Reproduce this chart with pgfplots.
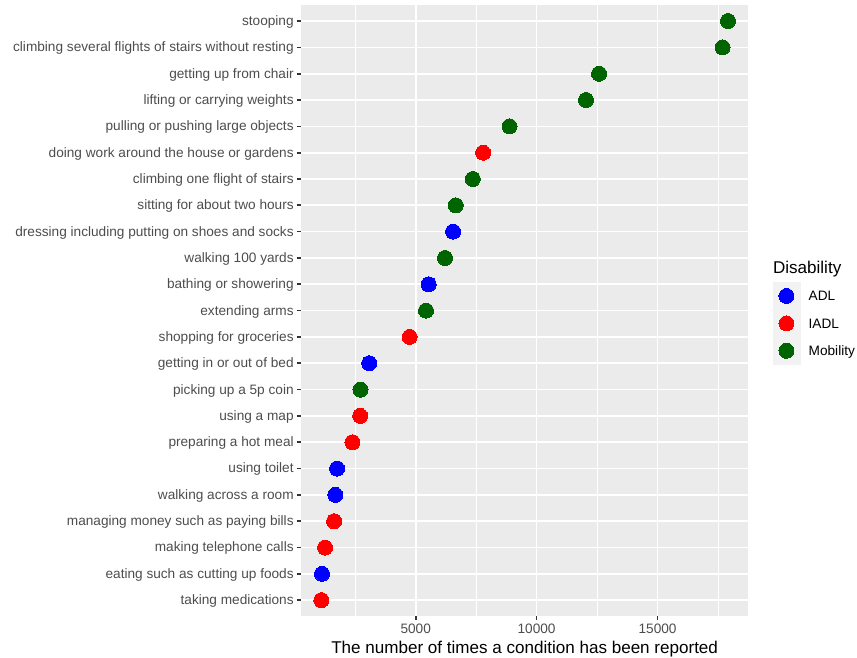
\documentclass[border=0pt]{standalone}
\usepackage{fontspec}
\setmainfont{Liberation Sans}
\usepackage{pgfplots}
\pgfplotsset{compat=1.18}
\definecolor{adl}{RGB}{0,0,255}
\definecolor{iadl}{RGB}{255,0,0}
\definecolor{mob}{RGB}{0,100,0}
\definecolor{panelbg}{RGB}{235,235,235}
\definecolor{grey30}{RGB}{77,77,77}
\definecolor{grey20}{RGB}{51,51,51}
\definecolor{keybg}{RGB}{242,242,242}
\begin{document}
\begin{tikzpicture}
\begin{axis}[
  scale only axis, width=288.6pt, height=394.0pt,
  at={(0,0)}, anchor=south west, clip=false,
  xmin=259, xmax=18754, ymin=-0.6, ymax=22.6,
  xtick={5000,10000,15000}, minor xtick={2500,7500,12500,17500},
  scaled x ticks=false,
  ytick={0,...,22},
  yticklabels={taking medications, eating such as cutting up foods, making telephone calls, managing money such as paying bills, walking across a room, using toilet, preparing a hot meal, using a map, picking up a 5p coin, getting in or out of bed, shopping for groceries, extending arms, bathing or showering, walking 100 yards, dressing including putting on shoes and socks, sitting for about two hours, climbing one flight of stairs, doing work around the house or gardens, pulling or pushing large objects, lifting or carrying weights, getting up from chair, climbing several flights of stairs without resting, stooping},
  /pgf/number format/assume math mode=true,
  /pgf/number format/1000 sep={},
  xticklabel={\pgfmathprintnumber[fixed,precision=0,1000 sep={}]{\tick}},
  xmajorgrids, xminorgrids, ymajorgrids,
  major grid style={white, line width=1.07pt},
  minor grid style={white, line width=0.53pt},
  axis background/.style={fill=panelbg},
  axis line style={draw=none},
  tick align=outside, major tick length=2.75pt, minor tick length=0pt,
  xtick pos=left, ytick pos=left,
  major tick style={grey20, line width=1.07pt},
  minor tick style={draw=none},
  xticklabel style={font=\fontsize{8.8}{10}\selectfont, text=grey30, anchor=base, inner sep=0pt, yshift=-8.6pt},
  yticklabel style={font=\fontsize{8.8}{10}\selectfont, text=grey30, anchor=base east, inner sep=0pt, xshift=-1.8pt, yshift=-2.85pt},
  xlabel={The number of times a condition has been reported},
  xlabel style={font=\fontsize{11}{13}\selectfont, at={(axis description cs:0.5,-0.0622)}, anchor=base, inner sep=0pt},
  legend style={at={(axis description cs:1.0546,0.5464)}, anchor=north west, draw=none, fill=none, inner sep=0pt, outer sep=0pt, row sep=0pt, nodes={inner sep=0pt, text depth=0pt, font=\fontsize{8.8}{10}\selectfont}},
  legend cell align=left,
  legend image code/.code={\fill[keybg] (0pt,-8.64pt) rectangle (17.28pt,8.64pt); \path (22.78pt,0pt); \draw[#1] plot coordinates {(8.64pt,0pt)};},
]
\addplot[only marks, mark=*, mark size=4.85pt, color=adl, mark options={draw=adl, fill=adl, line width=0pt}] coordinates {
  (1128,1) (1680,4) (1750,5) (3079,9) (5538,12) (6545,14)};
\addlegendentry{ADL}
\addplot[only marks, mark=*, mark size=4.85pt, color=iadl, mark options={draw=iadl, fill=iadl, line width=0pt}] coordinates {
  (1100,0) (1252,2) (1626,3) (2386,6) (2705,7) (4751,10) (7788,17)};
\addlegendentry{IADL}
\addplot[only marks, mark=*, mark size=4.85pt, color=mob, mark options={draw=mob, fill=mob, line width=0pt}] coordinates {
  (2718,8) (5427,11) (6214,13) (6657,15) (7360,16) (8880,18) (12042,19) (12581,20) (17689,21) (17913,22)};
\addlegendentry{Mobility}
\node[anchor=base west, inner sep=0pt, font=\fontsize{11}{13}\selectfont] at (axis description cs:1.0546,0.5612) {Disability};
\end{axis}
\path (-194.2pt,-27.1pt) rectangle (358.7pt,397.4pt);
\end{tikzpicture}
\end{document}
